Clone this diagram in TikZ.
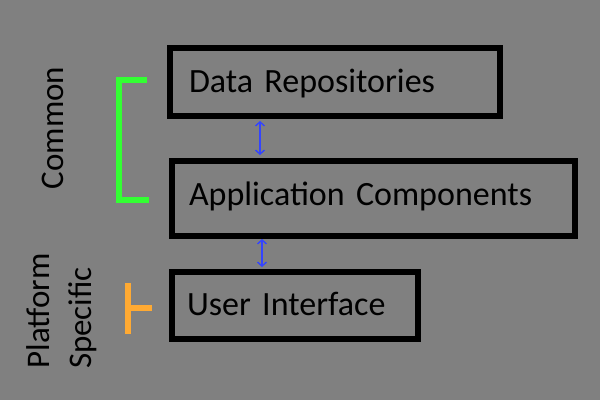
\documentclass[tikz,border=0pt]{standalone}
\usepackage{fontspec}
\setmainfont{Carlito}[WordSpace=0.75]
\usetikzlibrary{arrows.meta}
\definecolor{bg}{RGB}{128,128,128}
\definecolor{brgreen}{RGB}{51,255,51}
\definecolor{brorange}{RGB}{255,170,51}
\definecolor{arrblue}{RGB}{51,68,255}
\tikzset{
  layerbox/.style={draw=black, line width=6pt, inner xsep=0pt, inner ysep=0pt,
    align=left, font=\fontsize{34}{34}\selectfont, text height=21pt},
  sidelabel/.style={rotate=90, anchor=base, font=\fontsize{33}{33}\selectfont, inner sep=0pt},
  linkarrow/.style={draw=arrblue, line width=1.4pt, {Straight Barb[length=4pt,width=9pt]}-{Straight Barb[length=4pt,width=9pt]}},
  bracket/.style={line width=6pt, miter limit=10}
}
\begin{document}
\begin{tikzpicture}[x=1pt,y=-1pt]
  \fill[bg] (0,0) rectangle (600,400);
  \useasboundingbox (0,0) rectangle (600,400);

  \node[layerbox, minimum width=330pt, minimum height=68pt, text width=292pt, text depth=1pt]
    (data) at (335,82) {Data Repositories};
  \node[layerbox, minimum width=403pt, minimum height=75pt, text width=369pt, text depth=8pt]
    (app) at (373.5,198.5) {Application Components};
  \node[layerbox, minimum width=246pt, minimum height=67pt, text width=216pt, text depth=2pt]
    (ui) at (295,305.5) {User Interface};

  \coordinate (a1) at (260,0);
  \coordinate (a2) at (262,0);
  \draw[linkarrow] ([yshift=-2pt]data.south -| a1) -- ([yshift=3pt]app.north -| a1);
  \draw[linkarrow] ([yshift=-0pt]app.south -| a2) -- ([yshift=2pt]ui.north -| a2);

  \draw[bracket, brgreen] (147,80) -- (119,80) -- (119,199.5) -- (149,199.5);
  \draw[bracket, brorange] (127.5,283) -- (127.5,334);
  \draw[bracket, brorange] (127.5,307.5) -- (152,307.5);

  \node[sidelabel] (common) at (63,128) {Common};
  \node[sidelabel] (platform) at (49,311) {Platform};
  \node[sidelabel] (specific) at (91,318) {Specific};
\end{tikzpicture}
\end{document}
